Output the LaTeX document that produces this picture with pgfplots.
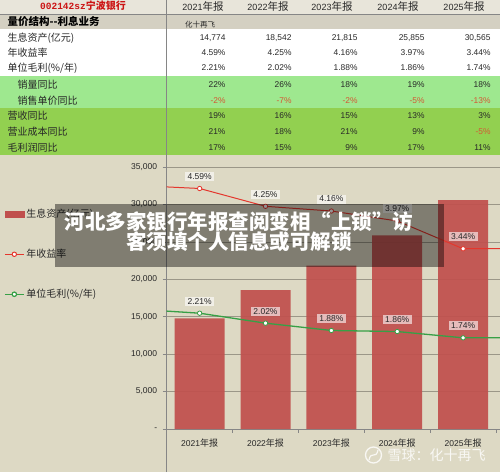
\documentclass[border=0pt]{standalone}
\usepackage{fontspec}
\usepackage{pgfplots}
\pgfplotsset{compat=1.18}
\setmainfont{Liberation Sans}
\newfontfamily\cjk{Noto Sans CJK SC}
\newfontfamily\mono{Liberation Mono}
\newcommand\fs[1]{\fontsize{#1}{#1}\selectfont}
\definecolor{bg}{RGB}{221,217,196}
\definecolor{hdr}{RGB}{232,229,218}
\definecolor{rowtwo}{RGB}{212,208,194}
\definecolor{lgreen}{RGB}{158,232,143}
\definecolor{dgreen}{RGB}{146,208,80}
\definecolor{barred}{RGB}{192,80,77}
\definecolor{redline}{RGB}{228,55,45}
\definecolor{greenline}{RGB}{55,160,70}
\definecolor{gridc}{RGB}{155,151,136}
\definecolor{axc}{RGB}{134,134,134}
\definecolor{negc}{RGB}{212,88,52}
\definecolor{txt}{RGB}{40,40,40}
\definecolor{titlered}{RGB}{204,20,20}
\newcommand\rowv[6]{%
 \node[anchor=east,text=txt,font=\fs{8.4}] at (229,#1) {#2};
 \node[anchor=east,text=txt,font=\fs{8.4}] at (295,#1) {#3};
 \node[anchor=east,text=txt,font=\fs{8.4}] at (361,#1) {#4};
 \node[anchor=east,text=txt,font=\fs{8.4}] at (428,#1) {#5};
 \node[anchor=east,text=txt,font=\fs{8.4}] at (494,#1) {#6};}
\newcommand\negv[1]{\textcolor{negc}{#1}}
\begin{document}
\begin{tikzpicture}[x=1pt,y=1pt]
\useasboundingbox (0,0) rectangle (500,472);
% backgrounds
\fill[bg] (0,0) rectangle (500,317);
\fill[hdr] (0,458) rectangle (500,472);
\fill[rowtwo] (0,442.5) rectangle (500,458);
\fill[white] (0,396) rectangle (500,442.5);
\fill[lgreen] (0,364) rectangle (500,396);
\fill[dgreen] (0,317) rectangle (500,364);
\draw[axc, line width=0.6pt] (0,458) -- (500,458);
% header row
\node[text=titlered] at (83,466) {{\mono\fs{9.5}\bfseries 002142sz}{\cjk\fs{10}\bfseries 宁波银行}};
\foreach \x/\yr in {203/2021,268/2022,332/2023,398/2024,464/2025}
  \node[text=txt] at (\x,465) {\fs{9}\yr{\cjk\fs{10.5}年报}};
\node[anchor=west,text=black] at (4,450) {\cjk\fs{10.5}\bfseries 量价结构--利息业务};
\node[text=txt] at (200,447) {\cjk\fs{7.5}化十再飞};
% row labels
\node[anchor=west,text=txt] at (4,434) {\cjk\fs{10}生息资产(亿元)};
\node[anchor=west,text=txt] at (4,419) {\cjk\fs{10}年收益率};
\node[anchor=west,text=txt] at (4,404) {\cjk\fs{10}单位毛利(\%/年)};
\node[anchor=west,text=txt] at (14,387) {\cjk\fs{10}销量同比};
\node[anchor=west,text=txt] at (14,371) {\cjk\fs{10}销售单价同比};
\node[anchor=west,text=txt] at (4,356) {\cjk\fs{10}营收同比};
\node[anchor=west,text=txt] at (4,340) {\cjk\fs{10}营业成本同比};
\node[anchor=west,text=txt] at (4,324) {\cjk\fs{10}毛利润同比};
% values
\rowv{434}{14,774}{18,542}{21,815}{25,855}{30,565}
\rowv{419}{4.59\%}{4.25\%}{4.16\%}{3.97\%}{3.44\%}
\rowv{404}{2.21\%}{2.02\%}{1.88\%}{1.86\%}{1.74\%}
\rowv{387}{22\%}{26\%}{18\%}{19\%}{18\%}
\rowv{371}{\negv{-2\%}}{\negv{-7\%}}{\negv{-2\%}}{\negv{-5\%}}{\negv{-13\%}}
\rowv{356}{19\%}{16\%}{15\%}{13\%}{3\%}
\rowv{340}{21\%}{18\%}{21\%}{9\%}{\negv{-5\%}}
\rowv{324}{17\%}{15\%}{9\%}{17\%}{11\%}
% vertical separator
\draw[axc, line width=0.7pt] (166.7,0) -- (166.7,472);
% primary axis: bars
\begin{axis}[at={(166.7pt,43pt)}, anchor=south west, scale only axis,
  width=333.3pt, height=262pt,
  xmin=-0.5, xmax=4.56, ymin=0, ymax=35000,
  scaled y ticks=false,
  axis x line*=bottom, axis y line*=left,
  axis line style={axc, line width=0.7pt},
  ytick={0,5000,...,35000},
  yticklabels={-,{5,000},{10,000},{15,000},{20,000},{25,000},{30,000},{35,000}},
  ymajorgrids, major grid style={gridc, line width=0.6pt},
  xtick={0,...,4},
  xticklabels={2021{\cjk\fs{9}年报},2022{\cjk\fs{9}年报},2023{\cjk\fs{9}年报},2024{\cjk\fs{9}年报},2025{\cjk\fs{9}年报}},
  major x tick style={draw=none},
  minor xtick={0.5,1.5,2.5,3.5,4.5},
  minor x tick style={axc, line width=0.6pt},
  minor tick length=3.5pt, major tick length=4pt,
  tick align=outside,
  ytick style={axc, line width=0.6pt},
  ticklabel style={font=\fs{8.5}, text=txt},
  yticklabel style={xshift=-2pt},
  xticklabel style={yshift=-2pt},
]
\addplot[ybar, bar width=50pt, fill=barred, draw=none, fill opacity=0.93]
  coordinates {(0,14774) (1,18542) (2,21815) (3,25855) (4,30565)};
\end{axis}
% secondary axis: lines
\begin{axis}[at={(166.7pt,43pt)}, anchor=south west, scale only axis,
  width=333.3pt, height=262pt,
  xmin=-0.5, xmax=4.56, ymin=0, ymax=5, hide axis,
  /pgf/number format/assume math mode=true,
  legend style={at={(-0.4881,0.847)}, anchor=north west, draw=none, fill=none,
    font=\cjk\fs{10}, text=txt, row sep=26pt, inner sep=0pt, cells={anchor=west}},
  legend image code/.code={\draw[mark repeat=2,mark phase=2,#1] plot coordinates {(0pt,0pt) (9.5pt,0pt) (19pt,0pt)};},
  nodes near coords style={font=\fs{8.5}, text=txt, fill=white, fill opacity=0.6, text opacity=1, inner xsep=2.5pt, inner ysep=1.5pt},
]
\addlegendimage{legend image code/.code={\fill[barred] (0pt,-3pt) rectangle (19pt,3pt);}}
\addlegendentry{生息资产(亿元)}
\addlegendimage{redline, line width=1pt, mark=*, mark size=2.2pt, mark options={fill=white}}
\addlegendentry{年收益率}
\addlegendimage{greenline, line width=1.2pt, mark=*, mark size=2.2pt, mark options={fill=white}}
\addlegendentry{单位毛利(\%/年)}
\addplot[redline, line width=1pt, forget plot] coordinates {(-0.5,4.62) (0,4.59) (1,4.25) (2,4.16) (3,3.97) (4,3.44) (4.56,3.44)};
\addplot[greenline, line width=1.3pt, forget plot] coordinates {(-0.5,2.25) (0,2.21) (1,2.02) (2,1.88) (3,1.86) (4,1.74) (4.56,1.74)};
\addplot[only marks, mark=*, mark size=2.2pt, redline, mark options={fill=white, line width=0.8pt}, forget plot,
  nodes near coords={\pgfmathprintnumber[fixed,fixed zerofill,precision=2]{\pgfplotspointmeta}\%},
  every node near coord/.append style={anchor=center, yshift=12pt}]
  coordinates {(0,4.59) (1,4.25) (2,4.16) (3,3.97) (4,3.44)};
\addplot[only marks, mark=*, mark size=2.2pt, greenline, mark options={fill=white, line width=0.8pt}, forget plot,
  nodes near coords={\pgfmathprintnumber[fixed,fixed zerofill,precision=2]{\pgfplotspointmeta}\%},
  every node near coord/.append style={anchor=center, yshift=12pt}]
  coordinates {(0,2.21) (1,2.02) (2,1.88) (3,1.86) (4,1.74)};
\end{axis}
% banner
\fill[black, opacity=0.42] (55,205) rectangle (444,268);
\node[text=white, align=center, font=\cjk\fs{20.5}\bfseries, inner sep=0pt] at (239,240.5) {河北多家银行年报查阅变相“上锁”访\\客须填个人信息或可解锁};
% watermark
\draw[white, opacity=0.8, line width=1.3pt] (373.5,17) circle (8);
\draw[white, opacity=0.8, line width=1.2pt] (369,12) .. controls (371,22) and (376,12) .. (378,22);
\node[anchor=west, text=white, text opacity=0.82, font=\cjk\fs{14}] at (384,17) {雪球：化十再飞};
\end{tikzpicture}
\end{document}
